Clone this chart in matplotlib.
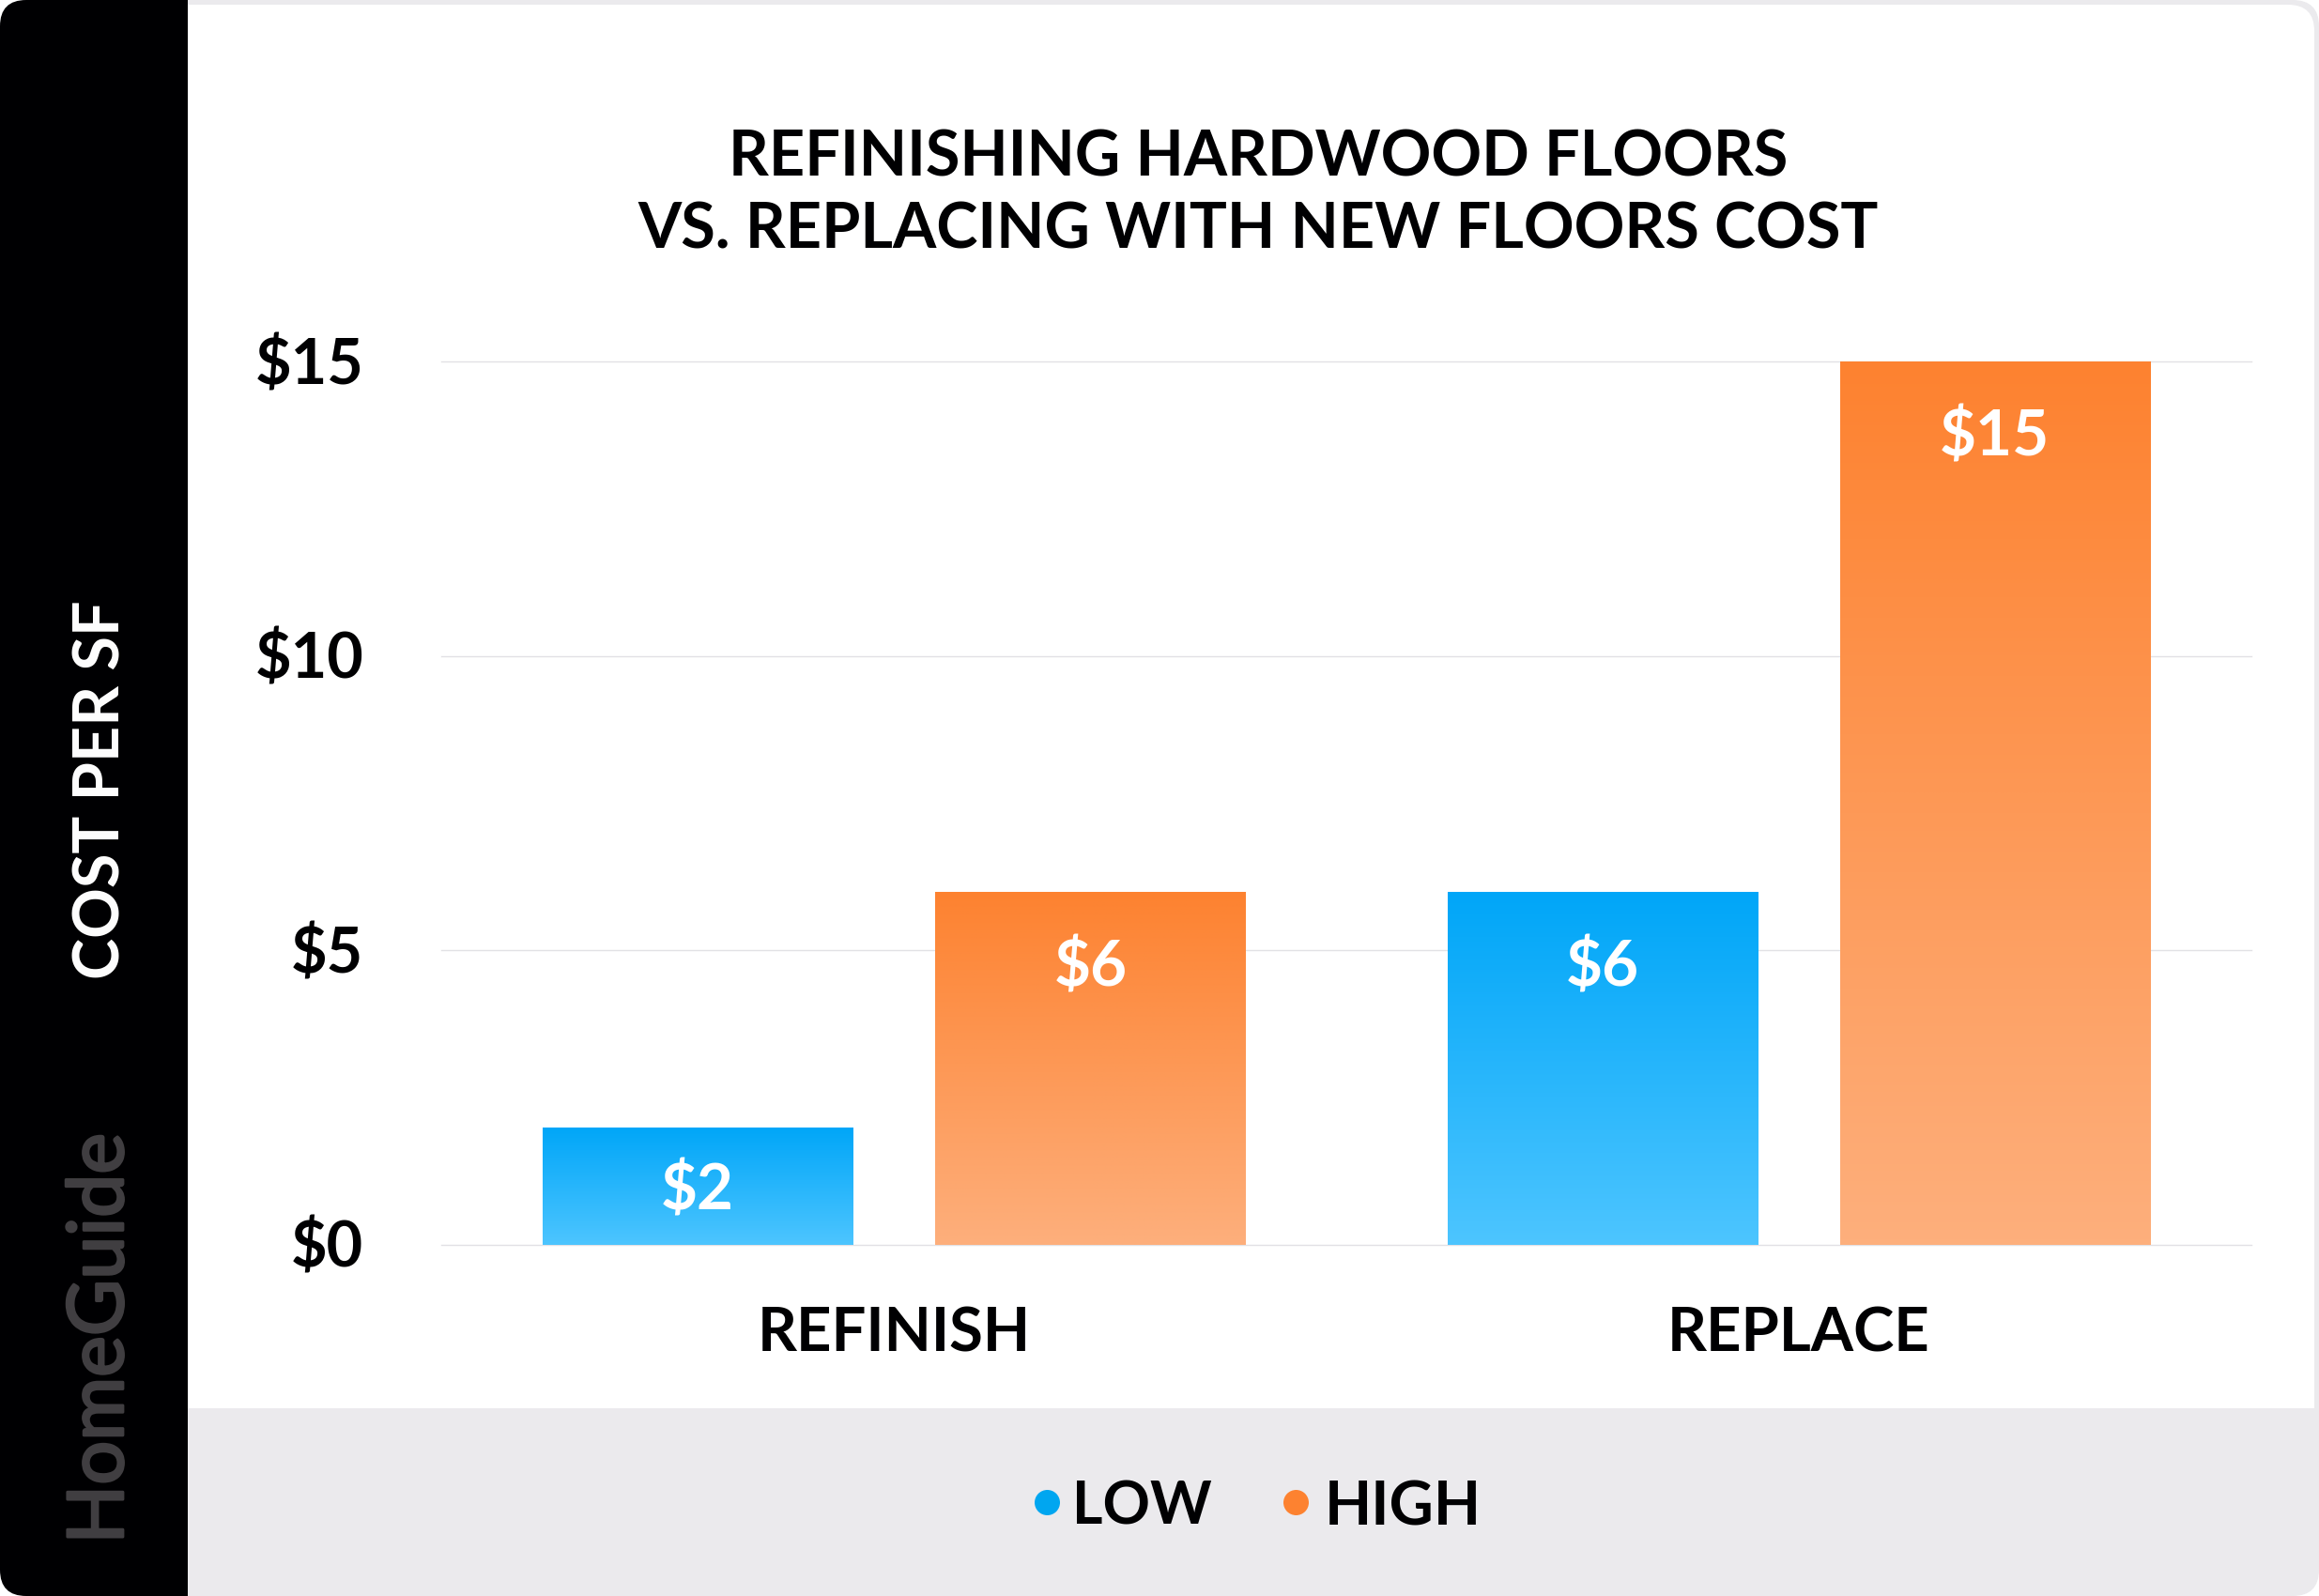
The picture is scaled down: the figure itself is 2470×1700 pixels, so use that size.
import numpy as np
import matplotlib
matplotlib.use("Agg")
import matplotlib.pyplot as plt
from matplotlib.patches import FancyBboxPatch, Rectangle
from matplotlib.colors import LinearSegmentedColormap
from matplotlib.transforms import ScaledTranslation
import matplotlib.patheffects as pe

categories = ["REFINISH", "REPLACE"]
low_values = [2, 6]
high_values = [6, 15]
y_ticks = [0, 5, 10, 15]
y_tick_labels = ["$0", "$5", "$10", "$15"]
series_names = ["LOW", "HIGH"]
title = "REFINISHING HARDWOOD FLOORS\nVS. REPLACING WITH NEW FLOORS COST"
y_label = "COST PER SF"
brand = "HomeGuide"

W, H = 2470, 1700
FONT = "Lato"
plt.rcParams["font.family"] = [FONT, "DejaVu Sans"]
fig = plt.figure(figsize=(W / 100, H / 100), dpi=100, facecolor="white")

# page furniture, in pixel coordinates
bg = fig.add_axes([0, 0, 1, 1], zorder=0)
bg.set_xlim(0, W); bg.set_ylim(H, 0); bg.axis("off")
GREY = "#EBEAED"
r = 28
# outer grey card with rounded corners
bg.add_patch(FancyBboxPatch((r, r), W - 2 * r, H - 2 * r,
                            boxstyle=f"round,pad={r},rounding_size={r}",
                            fc=GREY, ec="none"))
# white panel, its lower edge hidden under the legend band
bg.add_patch(FancyBboxPatch((r, 5 + r), W - 5 - 2 * r, 1590 - 5 - 2 * r,
                            boxstyle=f"round,pad={r},rounding_size={r}",
                            fc="white", ec="none"))
bg.add_patch(Rectangle((200, 1500), W - 200, 100, fc=GREY, ec="none"))
# black side bar
bg.add_patch(FancyBboxPatch((r, r), 400, H - 2 * r,
                            boxstyle=f"round,pad={r},rounding_size={r}",
                            fc="#000002", ec="none"))
bg.add_patch(Rectangle((200, 0), 400, 5, fc=GREY, ec="none"))
bg.add_patch(Rectangle((200, 5), 400, 1495, fc="white", ec="none"))
bg.add_patch(Rectangle((200, 1500), 400, 200, fc=GREY, ec="none"))

bg.text(1340, 207, title, ha="center", va="center", fontsize=48, fontweight="bold",
        color="#000002", linespacing=1.29)
bg.text(109, 841, y_label, rotation=90, ha="center", va="center", fontsize=48,
        fontweight="bold", color="white")
bg.text(108, 1426, brand, rotation=90, ha="center", va="center", fontsize=59.5,
        color="#403E41", path_effects=[pe.withStroke(linewidth=2, foreground="#403E41")])

# chart
L, R, T, B = 470.5, 2397.5, 385, 1326
ax = fig.add_axes([L / W, 1 - B / H, (R - L) / W, (B - T) / H], zorder=1)
ax.patch.set_alpha(0)
x = np.arange(len(categories))
width = 0.3427
off = 0.2170
ax.set_xlim(-0.5, 1.5)
ax.set_ylim(0, 15)
for s in ax.spines.values():
    s.set_visible(False)
ax.set_yticks(y_ticks, y_tick_labels)
ax.set_xticks(x, categories)
ax.tick_params(axis="y", length=0, pad=60, labelsize=48, labelcolor="#000002")
ax.tick_params(axis="x", length=0, pad=47, labelsize=47, labelcolor="#000002")
up = ScaledTranslation(0, 1 / 100, fig.dpi_scale_trans)
for t in ax.get_yticklabels():
    t.set_fontweight("bold")
    t.set_transform(t.get_transform() + up)
for t in ax.get_xticklabels():
    t.set_fontweight("bold")
ax.grid(axis="y", color="#E2E1E5", lw=1.0, zorder=0, clip_on=False)
ax.set_axisbelow(True)

cm_low = LinearSegmentedColormap.from_list("low", ["#00A6F8", "#4DC5FF"])
cm_high = LinearSegmentedColormap.from_list("high", ["#FD8230", "#FDAF7C"])
grad = np.linspace(0, 1, 256).reshape(-1, 1)

def draw(xs, vals, cmap):
    bars = ax.bar(xs, vals, width, color="none", lw=0, zorder=2)
    for b, v in zip(bars, vals):
        xx = b.get_x()
        im = ax.imshow(grad, cmap=cmap, aspect="auto", origin="upper", zorder=2,
                       extent=(xx, xx + b.get_width(), 0, v), interpolation="bilinear")
        im.set_clip_path(b)
        drop = min(82, v / 15 * (B - T) / 2 + 6) * 0.72
        ax.annotate(f"${v}", (xx + b.get_width() / 2, v), xytext=(0, -drop),
                    textcoords="offset points", ha="center", va="center",
                    fontsize=48.5, fontweight="bold", color="white", zorder=3)

draw(x - off, low_values, cm_low)
draw(x + off, high_values, cm_high)
ax.set_xlim(-0.5, 1.5)
ax.set_ylim(0, 15)

# legend
bg.scatter([1115], [1600], s=(27 * 0.72) ** 2, color="#00A6F0", lw=0, zorder=3)
bg.scatter([1380], [1600], s=(27 * 0.72) ** 2, color="#FD8230", lw=0, zorder=3)
bg.text(1142, 1606, series_names[0], ha="left", va="center", fontsize=45, fontweight="bold", color="#000002")
bg.text(1411, 1606, series_names[1], ha="left", va="center", fontsize=47, fontweight="bold", color="#000002")

fig.savefig("out.png", dpi=100, facecolor="white")
